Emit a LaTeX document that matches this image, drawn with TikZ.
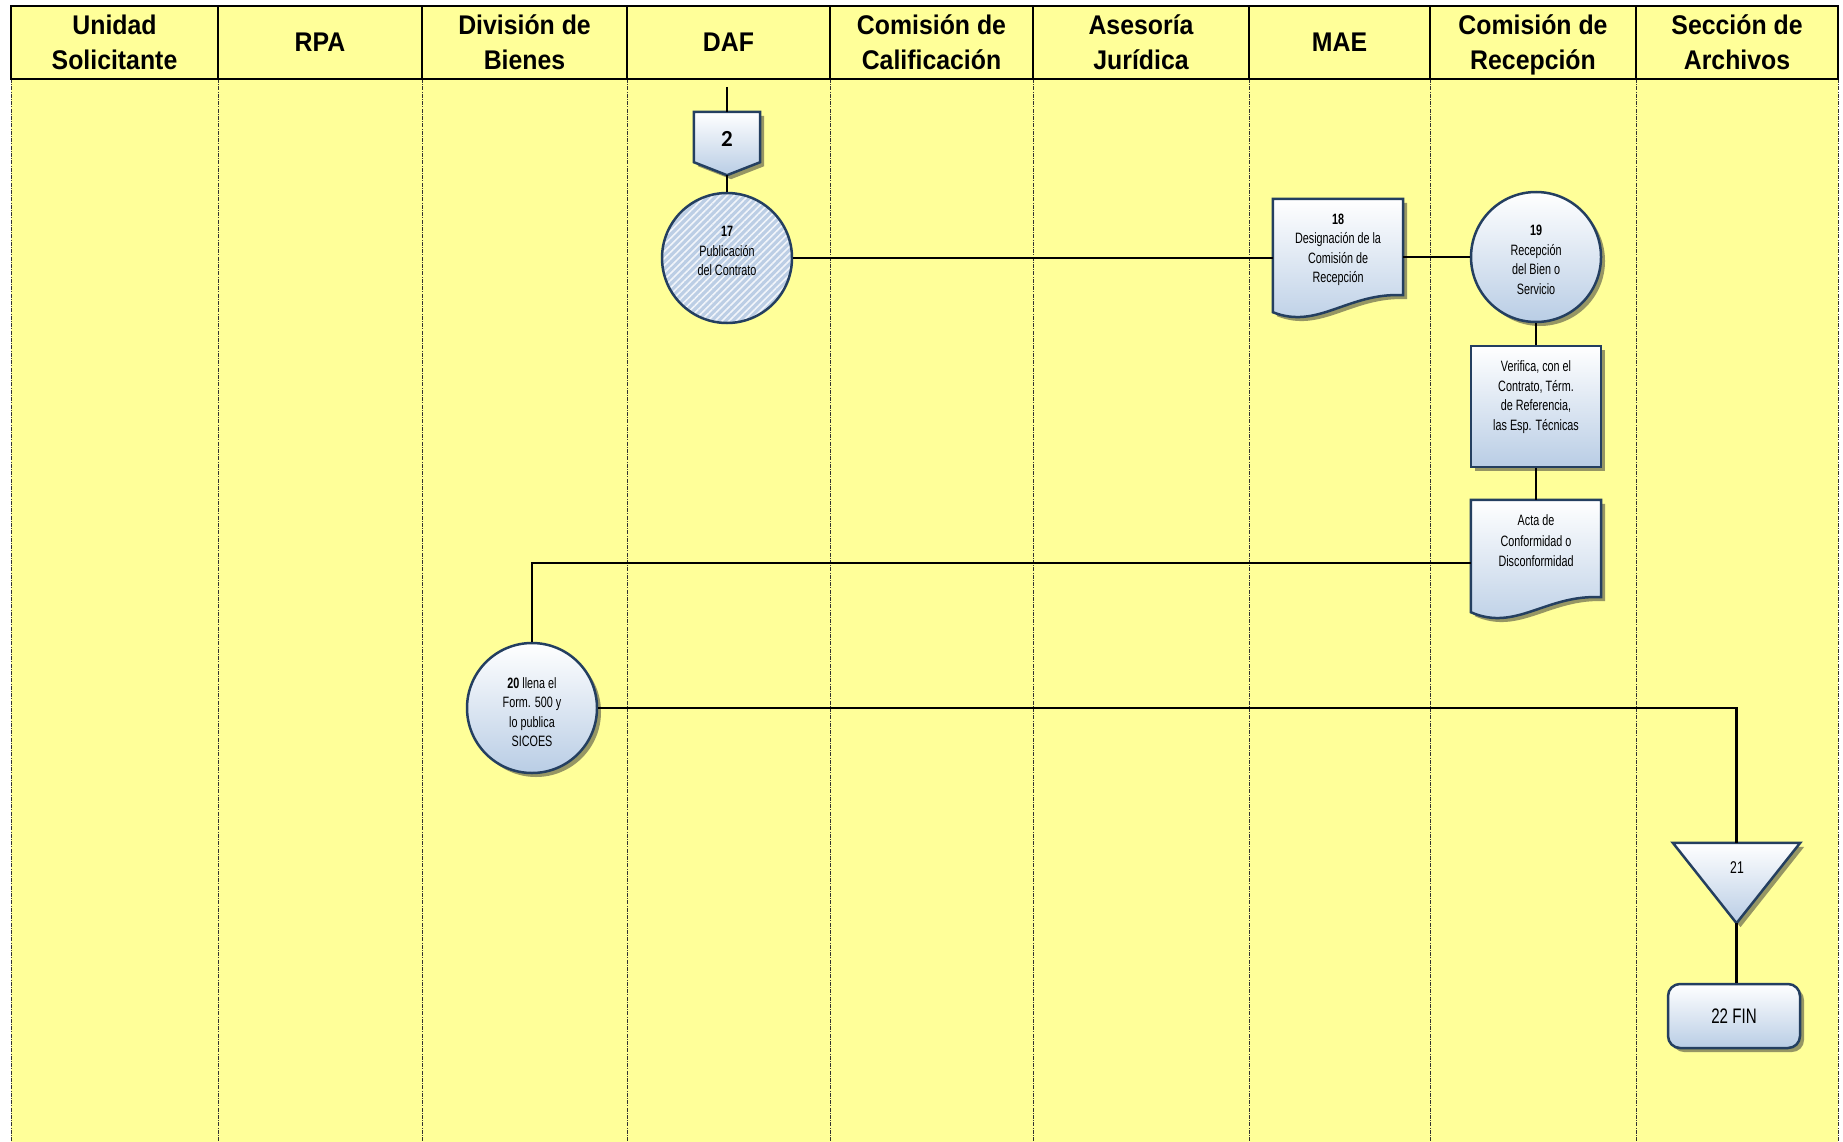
\documentclass[tikz,border=0pt]{standalone}
\usepackage{fontspec}
\setmainfont{Liberation Sans}
\newfontfamily\hdfont[FakeStretch=0.92]{Liberation Sans}
\newfontfamily\cfont[FakeStretch=0.72]{Liberation Sans}
\newfontfamily\numfont{Carlito}
\usetikzlibrary{shadows,patterns.meta,calc}
\definecolor{lane}{RGB}{255,255,153}
\definecolor{edge}{RGB}{36,63,96}
\definecolor{shapeblue}{RGB}{185,205,229}
\definecolor{shade}{RGB}{150,150,100}
\definecolor{hatchblue}{RGB}{188,206,229}
\begin{document}
\begin{tikzpicture}[x=1pt,y=-1pt,
  hdtext/.style={font=\hdfont\bfseries\fontsize{27}{35}\selectfont, align=center, inner sep=0pt, text depth=0pt},
  lanesep/.style={draw=black!80, line width=1pt, dash pattern=on 4pt off 1.2pt on 1pt off 1.2pt},
  flowbox/.style={draw=edge, line width=2.5pt, top color=white, bottom color=shapeblue,
    drop shadow={shadow xshift=4pt, shadow yshift=-4pt, fill=shade, opacity=1}},
  boxtext/.style={font=\cfont\fontsize{15}{19.5}\selectfont, align=center, inner sep=0pt},
  anchorbox/.style={inner sep=0pt, minimum width=#1},
  link/.style={draw=black, line width=2.5pt},
  act/.style={flowbox, circle, minimum size=130pt, inner sep=0pt},
]
\useasboundingbox (0,0) rectangle (1843,1142);

% lane background and separators
\fill[lane] (11,6) rectangle (1838,1142);
\foreach \x in {11,218,422,627,830,1033,1249,1430,1636,1838}
  \draw[lanesep] (\x,79) -- (\x,1142);

% header row
\draw[line width=2.5pt] (11,6) rectangle (1838,79);
\foreach \x in {218,422,627,830,1033,1249,1430,1636}
  \draw[line width=2pt] (\x,6) -- (\x,79);
\foreach \a/\b/\t [count=\i] in {
    11/218/{Unidad\\Solicitante},
    218/422/{RPA},
    422/627/{División de\\Bienes},
    627/830/{DAF},
    830/1033/{Comisión de\\Calificación},
    1033/1249/{Asesoría\\Jurídica},
    1249/1430/{MAE},
    1430/1636/{Comisión de\\Recepción},
    1636/1838/{Sección de\\Archivos}}
  \node[hdtext] (h\i) at ({(\a+\b)/2},42) {\t};

% off-page connector 2
\node[anchorbox=66pt, minimum height=50pt] (c2) at (727,137) {};
\coordinate (c2tip) at ($(c2.south)+(0,13)$);
\path[flowbox] (c2.north west) -- (c2.north east) -- (c2.south east) -- (c2tip)
  -- (c2.south west) -- cycle;
\node[font=\numfont\bfseries\fontsize{23}{23}\selectfont, inner sep=0pt] (n2) at (727,139) {2};

% 17 publication (hatched)
\node[circle, minimum size=130pt, inner sep=0pt, draw=edge, line width=2.5pt,
  preaction={fill=hatchblue},
  pattern={Lines[angle=45,distance=5pt,line width=1.6pt]}, pattern color=white!80!hatchblue]
  (c17) at (727,258) {};
\node[boxtext] (t17) at (727,251) {\textbf{17}\\Publicación\\del Contrato};

% 18 document
\node[anchorbox=130pt, minimum height=96pt] (d18) at (1338,247) {};
\path[flowbox] (d18.north west) -- (d18.north east) -- (d18.south east)
  .. controls ($(d18.south west)+(75,-3)$) and ($(d18.south west)+(45,35)$)
  .. ($(d18.south west)+(0,17)$) -- cycle;
\node[boxtext] (t18) at (1338,250) {\textbf{18}\\Designación de la\\Comisión de\\Recepción};

% 19 reception
\node[act] (c19) at (1536,257) {};
\node[boxtext] (t19) at (1536,260) {\textbf{19}\\Recepción\\del Bien o\\Servicio};

% verification step
\node[flowbox, anchorbox=130pt, minimum height=121pt] (v) at (1536,406.5) {};
\node[boxtext] (tv) at (1536,397) {Verifica, con el\\Contrato, Térm.\\de Referencia,\\las Esp. Técnicas};

% acta document
\node[anchorbox=130pt, minimum height=97pt] (acta) at (1536,548.5) {};
\path[flowbox] (acta.north west) -- (acta.north east) -- (acta.south east)
  .. controls ($(acta.south west)+(75,-3)$) and ($(acta.south west)+(45,35)$)
  .. ($(acta.south west)+(0,15)$) -- cycle;
\node[boxtext, font=\cfont\fontsize{15}{20.5}\selectfont] (ta) at (1536,541) {Acta de\\Conformidad o\\Disconformidad};

% 20 form
\node[act] (c20) at (532,708) {};
\node[boxtext] (t20) at (532,712) {\textbf{20} llena el\\Form. 500 y\\lo publica\\SICOES};

% 21 archive triangle
\node[anchorbox=127pt, minimum height=80pt] (t21) at (1736.5,883) {};
\path[flowbox] (t21.north west) -- (t21.north east) -- (t21.south) -- cycle;
\node[boxtext, font=\cfont\fontsize{17}{17}\selectfont] (n21) at (1737,868) {21};

% 22 end
\node[flowbox, rounded corners=12pt, anchorbox=132pt, minimum height=64pt,
  font=\cfont\fontsize{21}{21}\selectfont] (fin) at (1734,1016) {22 FIN};

% connectors
\coordinate (start) at (727,87);
\draw[link] (start) -- (c2.north);
\draw[link] (c2tip) -- (c17.north);
\draw[link] (c17.east) -- (c17.east -| d18.west);
\draw[link] (d18.east |- c19.west) -- (c19.west);
\draw[link] (c19.south) -- (v.north);
\draw[link] (v.south) -- (acta.north);
\draw[link] ($(acta.west)+(0,14.5)$) -| (c20.north);
\draw[link] (c20.east) -| (t21.north);
\draw[link] (t21.south) -- (t21.south |- fin.north);
\end{tikzpicture}
\end{document}
